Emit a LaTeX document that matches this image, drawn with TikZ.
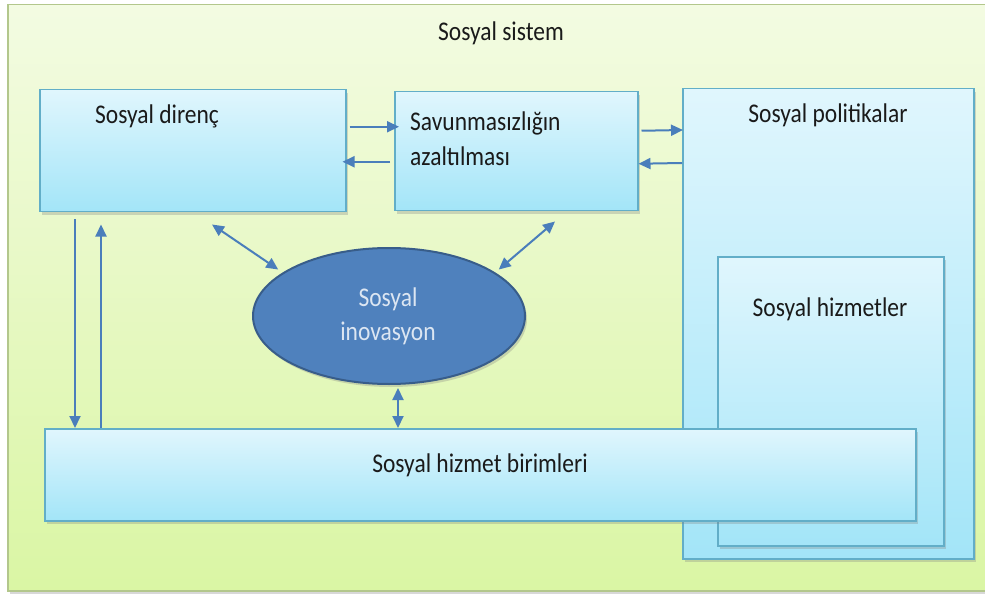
\documentclass[tikz,border=0pt]{standalone}
\usepackage{fontspec}
\setmainfont{Carlito}[FakeStretch=0.87]
\usetikzlibrary{shapes.geometric,arrows.meta,shadows,calc}
\definecolor{arrc}{HTML}{4A7EBB}
\definecolor{boxline}{HTML}{62AEC8}
\definecolor{boxtop}{HTML}{E0F6FD}
\definecolor{boxbot}{HTML}{A3E5F8}
\definecolor{systop}{HTML}{F3FBE2}
\definecolor{sysbot}{HTML}{DAF6A4}
\definecolor{sysline}{HTML}{B3C78C}
\definecolor{ellfill}{HTML}{4F81BD}
\definecolor{ellline}{HTML}{385D8A}
\definecolor{elltxt}{HTML}{DCE6F2}
\definecolor{txt}{HTML}{1A1A1A}
\begin{document}
\begin{tikzpicture}[x=1pt,y=-1pt,
  box/.style={draw=boxline, line width=1.5pt, top color=boxtop, bottom color=boxbot,
    anchor=north west, inner sep=0pt,
    drop shadow={opacity=0.3, shadow xshift=2pt, shadow yshift=-3pt}},
  lbl/.style={font=\fontsize{27}{32}\selectfont, text=txt, inner sep=0pt},
  arr/.style={draw=arrc, line width=2pt, -{Triangle[length=12pt,width=11pt]}},
  darr/.style={draw=arrc, line width=2pt, {Triangle[length=12pt,width=11pt]}-{Triangle[length=12pt,width=11pt]}}]
\useasboundingbox (0,0) rectangle (985,596);
\clip (0,0) rectangle (985,596);
\fill[white] (0,0) rectangle (985,596);
% outer system
\node[draw=sysline, line width=1.5pt, top color=systop, bottom color=sysbot,
  anchor=north west, inner sep=0pt, minimum width=990pt, minimum height=586pt,
  drop shadow={opacity=0.3, shadow xshift=2pt, shadow yshift=-3pt}] (sys) at (7,4) {};
\node[lbl, anchor=base] (sysT) at (501,41) {Sosyal sistem};
% boxes
\node[box, minimum width=291pt, minimum height=470pt] (pol) at (682,88) {};
\node[box, minimum width=226pt, minimum height=289pt] (hiz) at (717,256) {};
\node[box, minimum width=306pt, minimum height=122pt] (dir) at (39,89) {};
\node[box, minimum width=243pt, minimum height=119pt] (sav) at (394,91) {};
\node[box, minimum width=871pt, minimum height=92pt] (bir) at (44,428) {};
\node[ellipse, draw=ellline, line width=2pt, fill=ellfill, minimum width=272pt,
  minimum height=136pt, inner sep=0pt,
  drop shadow={opacity=0.3, shadow xshift=2pt, shadow yshift=-3pt}] (inov) at (389,316) {};
% labels
\node[lbl, anchor=base west] (dirT) at (95,124) {Sosyal direnç};
\node[lbl, anchor=base west] (savT1) at (410,131) {Savunmasızlığın};
\node[lbl, anchor=base west] (savT2) at (410,166) {azaltılması};
\node[lbl, anchor=base] (polT) at (828,123) {Sosyal politikalar};
\node[lbl, anchor=base] (hizT) at (830,316) {Sosyal hizmetler};
\node[lbl, anchor=base] (birT) at (480,472) {Sosyal hizmet birimleri};
\node[lbl, anchor=base, text=elltxt] (inovT1) at (388,306) {Sosyal};
\node[lbl, anchor=base, text=elltxt] (inovT2) at (388,340) {inovasyon};
% connector end points
\coordinate (a1) at ([shift={(3pt,24pt)}]dir.east);
\coordinate (a2) at ([shift={(5pt,24.5pt)}]sav.west);
\coordinate (b1) at ([shift={(-4pt,-10.5pt)}]sav.west);
\coordinate (b2) at ([shift={(-4pt,-11pt)}]dir.east);
\coordinate (c1) at ([shift={(3pt,20.5pt)}]sav.east);
\coordinate (c2) at ([shift={(1pt,-42pt)}]pol.north west);
\coordinate (d1) at ([yshift=-75pt]pol.north west);
\coordinate (d2) at ([shift={(0pt,-12.5pt)}]sav.east);
\coordinate (l1) at ([shift={(36pt,-7pt)}]dir.south west);
\coordinate (l2) at ([xshift=57pt]bir.north west);
\coordinate (l3) at ([yshift=-12pt]dir.south);
\coordinate (e1) at ([shift={(173pt,-12pt)}]dir.south west);
\coordinate (e2) at ([shift={(-6pt,2pt)}]inov.157);
\coordinate (f1) at ([shift={(161pt,-10pt)}]sav.south west);
\coordinate (f2) at ([shift={(5pt,2pt)}]inov.23);
\coordinate (v1) at ([shift={(9pt,-3pt)}]inov.south);
% connectors
\draw[arr] (a1) -- (a2);
\draw[arr] (b1) -- (b2);
\draw[arr] (c1) -- (c2);
\draw[arr] (d1) -- (d2);
\draw[arr] (l1) -- (l1 |- bir.north);
\draw[arr] (l2) -- (l2 |- l3);
\draw[darr] (e1) -- (e2);
\draw[darr] (f1) -- (f2);
\draw[darr] (v1) -- (v1 |- bir.north);
\end{tikzpicture}
\end{document}
